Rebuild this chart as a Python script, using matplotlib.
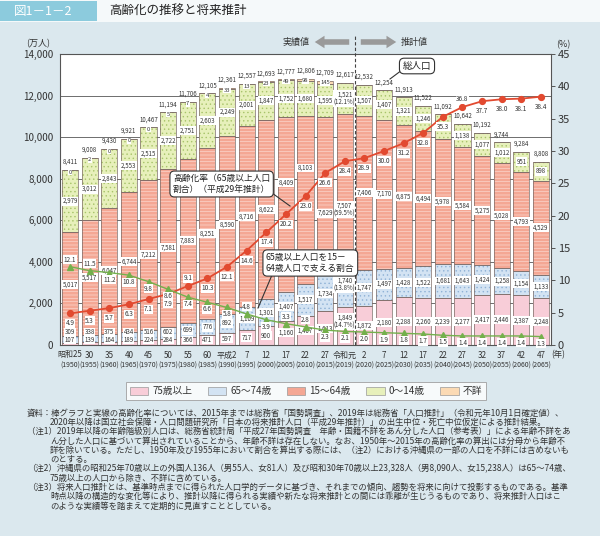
"""
高齢化の推移と将来推計（図1-1-2）を matplotlib で描き直す。

Usage:
    python3 plot.py
"""

import matplotlib
matplotlib.use("Agg")
import matplotlib.pyplot as plt
from matplotlib.lines import Line2D
from matplotlib.patches import Patch, Rectangle
import numpy as np

plt.rcParams["font.family"] = ["Noto Sans CJK JP", "DejaVu Sans"]
plt.rcParams["hatch.linewidth"] = 0.5

# --- data (万人 / %) ---
era_labels = ["昭和25", "30", "35", "40", "45", "50", "55", "60", "平成2", "7",
              "12", "17", "22", "27", "令和元", "2", "7", "12", "17", "22",
              "27", "32", "37", "42", "47"]
years = [1950, 1955, 1960, 1965, 1970, 1975, 1980, 1985, 1990, 1995, 2000,
         2005, 2010, 2015, 2019, 2020, 2025, 2030, 2035, 2040, 2045, 2050,
         2055, 2060, 2065]
total = [8411, 9008, 9430, 9921, 10467, 11194, 11706, 12105, 12361, 12557,
         12693, 12777, 12806, 12709, 12617, 12532, 12254, 11913, 11522, 11092,
         10642, 10192, 9744, 9284, 8808]
age_0_14 = [2979, 3012, 2843, 2553, 2515, 2722, 2751, 2603, 2249, 2001, 1847,
            1752, 1680, 1595, 1521, 1507, 1407, 1321, 1246, 1194, 1138, 1077,
            1012, 951, 898]
age_15_64 = [5017, 5517, 6047, 6744, 7212, 7581, 7883, 8251, 8590, 8716, 8622,
             8409, 8103, 7629, 7507, 7406, 7170, 6875, 6494, 5978, 5584, 5275,
             5028, 4793, 4529]
age_65_74 = [309, 338, 375, 434, 516, 602, 699, 776, 892, 1109, 1301, 1407,
             1517, 1734, 1740, 1747, 1497, 1428, 1522, 1681, 1643, 1424, 1258,
             1154, 1133]
age_75_over = [107, 139, 164, 189, 224, 284, 366, 471, 597, 717, 900, 1160,
               1407, 1613, 1849, 1872, 2180, 2288, 2260, 2239, 2277, 2417, 2446,
               2387, 2248]
unknown = [0, 2, 0, 0, 0, 5, 7, 4, 33, 13, 23, 49, 98, 145, 0, 0, 0, 0, 0, 0,
           0, 0, 0, 0, 0]
# 2019年の構成比（75歳以上, 65～74歳, 15～64歳, 0～14歳）
share_2019 = [14.7, 13.8, 59.5, 12.1]
aging_rate = [4.9, 5.3, 5.7, 6.3, 7.1, 7.9, 9.1, 10.3, 12.1, 14.6, 17.4, 20.2,
              23.0, 26.6, 28.4, 28.9, 30.0, 31.2, 32.8, 35.3, 36.8, 37.7, 38.0,
              38.1, 38.4]
support_ratio = [12.1, 11.5, 11.2, 10.8, 9.8, 8.6, 7.4, 6.6, 5.8, 4.8, 3.9,
                 3.3, 2.8, 2.3, 2.1, 2.0, 1.9, 1.8, 1.7, 1.5, 1.4, 1.4, 1.4,
                 1.4, 1.3]
n_actual = 15  # 2019年（令和元）までが実績値

C75 = "#f8cdd8"
C6574 = "#d3e3f3"
C1564 = "#f4a794"
C014 = "#e7f0bb"
CUNK = "#fbdab4"
RED = "#e24a30"
GREEN = "#74b04c"
TXT = "#333333"

W, H = 600, 536


def fx(x):
    return x / W


def fy(y):
    return 1 - y / H


fig = plt.figure(figsize=(6.0, 5.36), dpi=100)
fig.patch.set_facecolor("#dbe8ee")

# header strip
fig.add_artist(Rectangle((0, fy(22)), 1, 22 / H, transform=fig.transFigure,
                         fc="#f5f9fa", ec="none", zorder=0))
fig.add_artist(Rectangle((0, fy(21)), 97 / W, 20 / H, transform=fig.transFigure,
                         fc="#8ccbdd", ec="none", zorder=1))
fig.text(fx(14), fy(11), "図1－1－2", fontsize=9, color="white", va="center")
fig.text(fx(109), fy(11), "高齢化の推移と将来推計", fontsize=9, color="#222",
         va="center")

ax = fig.add_axes([fx(60), fy(345), 491 / W, 291 / H])
ax.set_facecolor("white")
n = len(years)
x = np.arange(n)
bw = 0.82

b1 = np.array(age_75_over)
b2 = b1 + np.array(age_65_74)
b3 = b2 + np.array(age_15_64)
b4 = b3 + np.array(age_0_14)
top = b4 + np.array(unknown)

segments = [
    (age_75_over, np.zeros(n), C75, None, C75),
    (age_65_74, b1, C6574, "....", "#8fb2d6"),
    (age_15_64, b2, C1564, "-----", "#fbd6cc"),
    (age_0_14, b3, C014, "....", "#a8c46a"),
    (unknown, b4, CUNK, None, CUNK),
]
for vals, bottom, fc, hatch, hc in segments:
    ax.bar(x, vals, bw, bottom=bottom, color=fc, edgecolor=hc, linewidth=0,
           hatch=hatch, zorder=2)
    ax.bar(x, vals, bw, bottom=bottom, fill=False, edgecolor="#7a6a66",
           linewidth=0.5, zorder=3)

ax.set_xlim(-0.51, n - 0.49)
ax.set_ylim(0, 14000)
ax.set_yticks(range(0, 14001, 2000))
ax.set_yticklabels([f"{v:,}" for v in range(0, 14001, 2000)], fontsize=7,
                   color=TXT)
ax.tick_params(axis="y", length=0, pad=5)
ax.set_xticks([])
ax.yaxis.grid(True, color="#6d6d6d", linewidth=0.7, zorder=0)
ax.set_axisbelow(True)
for s in ax.spines.values():
    s.set_color("#555")
    s.set_linewidth(0.8)

PX = 14000 / 291  # 1 pixel in 万人


def seg_label(xx, yy, s, fs=4.4):
    ax.text(xx, yy, s, ha="center", va="center", fontsize=fs, color=TXT,
            zorder=6, linespacing=1.0,
            bbox=dict(boxstyle="square,pad=0.08", fc="white", ec="none"))


# 15～64歳ラベルを折れ線から逃がすずらし量（px）
shift_1564 = {11: 22, 12: 32, 13: -17, 14: -17}

for i in range(n):
    y75 = max(b1[i] / 2, 5 * PX)
    y6574 = max((b1[i] + b2[i]) / 2, y75 + 8 * PX)
    y1564 = (b2[i] + b3[i]) / 2 + shift_1564.get(i, 0) * PX
    y014 = (b3[i] + b4[i]) / 2
    if i == n_actual - 1:
        seg_label(x[i], y75 + 4 * PX, f"{age_75_over[i]:,}\n({share_2019[0]}%)")
        seg_label(x[i], y6574 + 4 * PX, f"{age_65_74[i]:,}\n({share_2019[1]}%)")
        seg_label(x[i], y1564, f"{age_15_64[i]:,}\n({share_2019[2]}%)")
        seg_label(x[i], y014, f"{age_0_14[i]:,}\n({share_2019[3]}%)")
    else:
        seg_label(x[i], y75, f"{age_75_over[i]:,}")
        seg_label(x[i], y6574, f"{age_65_74[i]:,}")
        seg_label(x[i], y1564, f"{age_15_64[i]:,}")
        seg_label(x[i], y014, f"{age_0_14[i]:,}")
    if i < n_actual - 1:
        seg_label(x[i], top[i] - 2 * PX, f"{unknown[i]:,}", fs=4.2)
    ax.text(x[i], top[i] + 8 * PX, f"{total[i]:,}", ha="center", va="center",
            fontsize=4.4, color=TXT, zorder=6)

# 実績値 / 推計値 の境界
ax.plot([n_actual - 0.5] * 2, [0, 14000 + 20 * PX], color="#444",
        linestyle=(0, (3, 2)), linewidth=0.8, clip_on=False, zorder=7)

# 割合の折れ線（右軸）
ax2 = ax.twinx()
ax2.set_ylim(0, 45)
ax2.set_yticks(range(0, 46, 5))
ax2.set_yticklabels([str(v) for v in range(0, 46, 5)], fontsize=8, color=TXT)
ax2.tick_params(axis="y", length=3, width=0.7, color="#555", pad=2)
for s in ax2.spines.values():
    s.set_visible(False)

ax2.plot(x, aging_rate, color=RED, marker="o", markersize=4.2, linewidth=1.3,
         zorder=5)
ax2.plot(x, support_ratio, color=GREEN, marker="^", markersize=4.2,
         linewidth=1.0, zorder=5)

P = 45 / 291  # 1 pixel in %
red_above = {6, 20}
for i, v in enumerate(aging_rate):
    dy = 8 * P if i in red_above else -10 * P
    ax2.text(x[i], v + dy, f"{v:.1f}", ha="center", va="center", fontsize=4.6,
             color=TXT, zorder=6,
             bbox=dict(boxstyle="square,pad=0.08", fc="white", ec="none"))
green_above = {0, 1, 9, 11, 12}
for i, v in enumerate(support_ratio):
    dy = 7 * P if i in green_above else -7 * P
    ax2.text(x[i], v + dy, f"{v:.1f}", ha="center", va="center", fontsize=4.6,
             color=TXT, zorder=6,
             bbox=dict(boxstyle="square,pad=0.08", fc="white", ec="none"))

# 軸ラベル
fig.text(fx(38), fy(44), "(万人)", fontsize=6.5, color=TXT, ha="center",
         va="center")
fig.text(fx(563), fy(45), "(%)", fontsize=6.5, color=TXT, ha="center",
         va="center")
fig.text(fx(558), fy(355), "(年)", fontsize=6, color=TXT, ha="center",
         va="center")

# x 軸の年ラベル（和暦 / 西暦）
for i in range(n):
    px = 70 + i * 19.625
    fig.text(fx(px), fy(355), era_labels[i], fontsize=5.8, color=TXT,
             ha="center", va="center")
    fig.text(fx(px), fy(366), f"({years[i]})", fontsize=5.0, color=TXT,
             ha="center", va="center")

# 実績値 ← | → 推計値
arrow = dict(arrowstyle="simple,head_width=0.9,head_length=0.7,tail_width=0.4",
             color="#9a9a9a", lw=0)
ax.annotate("", xy=(312, H - 42), xytext=(352, H - 42),
            xycoords="figure pixels", textcoords="figure pixels",
            arrowprops=arrow, annotation_clip=False)
ax.annotate("", xy=(399, H - 42), xytext=(358, H - 42),
            xycoords="figure pixels", textcoords="figure pixels",
            arrowprops=arrow, annotation_clip=False)
fig.text(fx(296), fy(42), "実績値", fontsize=6.5, color=TXT, ha="center",
         va="center")
fig.text(fx(414), fy(42), "推計値", fontsize=6.5, color=TXT, ha="center",
         va="center")

# 吹き出し
callout = dict(boxstyle="round,pad=0.35,rounding_size=0.5", fc="white",
               ec="#333", lw=0.8)
fig.add_artist(Line2D([fx(402), fx(390)], [fy(70), fy(79)], color="#333",
                      lw=0.8, transform=fig.transFigure, zorder=8))
fig.text(fx(417), fy(66), "総人口", fontsize=6.8, color="#222", ha="center",
         va="center", bbox=callout, zorder=9)

fig.add_artist(Line2D([fx(272), fx(290)], [fy(193), fy(206)], color="#333",
                      lw=0.8, transform=fig.transFigure, zorder=8))
fig.text(fx(173), fy(184), "高齢化率（65歳以上人口\n割合）（平成29年推計）",
         fontsize=6.3, color="#222", ha="left", va="center", linespacing=1.25,
         bbox=callout, zorder=9)

fig.add_artist(Line2D([fx(272), fx(258)], [fy(275), fy(308)], color="#333",
                      lw=0.8, transform=fig.transFigure, zorder=8))
fig.text(fx(266), fy(263), "65歳以上人口を15－\n64歳人口で支える割合",
         fontsize=6.3, color="#222", ha="left", va="center", linespacing=1.3,
         bbox=callout, zorder=9)

# 凡例
handles = [
    Patch(fc=C75, ec="#999", lw=0.5),
    Patch(fc=C6574, ec="#999", lw=0.5),
    Patch(fc=C1564, ec="#999", lw=0.5),
    Patch(fc=C014, ec="#999", lw=0.5),
    Patch(fc=CUNK, ec="#999", lw=0.5),
]
labels = ["75歳以上", "65～74歳", "15～64歳", "0～14歳", "不詳"]
leg = fig.legend(handles, labels, ncol=5, loc="center",
                 bbox_to_anchor=(fx(306), fy(391)), fontsize=7, frameon=True,
                 fancybox=False, edgecolor="#999", handlelength=1.9,
                 handleheight=0.9, handletextpad=0.4, columnspacing=1.6,
                 borderpad=0.45)
leg.get_frame().set_linewidth(0.7)
for t in leg.get_texts():
    t.set_color(TXT)

# 注記
notes = [
    (27, "資料：棒グラフと実線の高齢化率については、2015年までは総務省「国勢調査」、2019年は総務省「人口推計」（令和元年10月1日確定値）、"),
    (50, "2020年以降は国立社会保障・人口問題研究所「日本の将来推計人口（平成29年推計）」の出生中位・死亡中位仮定による推計結果。"),
    (27, "（注1）2019年以降の年齢階級別人口は、総務省統計局「平成27年国勢調査　年齢・国籍不詳をあん分した人口（参考表）」による年齢不詳をあ"),
    (50, "ん分した人口に基づいて算出されていることから、年齢不詳は存在しない。なお、1950年～2015年の高齢化率の算出には分母から年齢不"),
    (50, "詳を除いている。ただし、1950年及び1955年において割合を算出する際には、（注2）における沖縄県の一部の人口を不詳には含めないも"),
    (50, "のとする。"),
    (27, "（注2）沖縄県の昭和25年70歳以上の外国人136人（男55人、女81人）及び昭和30年70歳以上23,328人（男8,090人、女15,238人）は65～74歳、"),
    (50, "75歳以上の人口から除き、不詳に含めている。"),
    (27, "（注3）将来人口推計とは、基準時点までに得られた人口学的データに基づき、それまでの傾向、趨勢を将来に向けて投影するものである。基準"),
    (50, "時点以降の構造的な変化等により、推計以降に得られる実績や新たな将来推計との間には乖離が生じうるものであり、将来推計人口はこ"),
    (50, "のような実績等を踏まえて定期的に見直すこととしている。"),
]
for k, (x0, line) in enumerate(notes):
    fig.text(fx(x0), fy(413 + 9.3 * k), line, fontsize=6.05, color=TXT,
             ha="left", va="center")

fig.savefig("out.png", dpi=100, facecolor=fig.get_facecolor())
